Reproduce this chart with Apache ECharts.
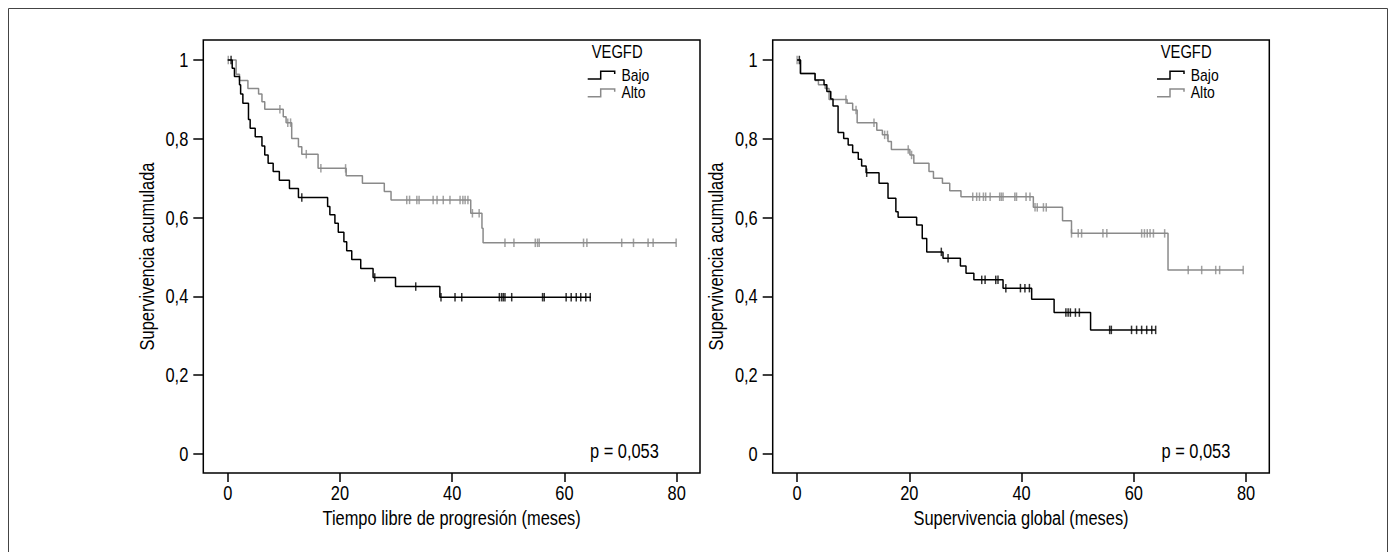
<!DOCTYPE html>
<html>
<head>
<meta charset="utf-8">
<script src="https://cdn.jsdelivr.net/npm/echarts@6/dist/echarts.min.js"></script>
<style>
html,body{margin:0;padding:0;background:#fff;}
#chart{width:1396px;height:552px;}
</style>
</head>
<body>
<div id="chart"></div>
<script>
// ---------------- DATA ----------------
const xTicks = [0, 20, 40, 60, 80];
const yTicks = [0, 0.2, 0.4, 0.6, 0.8, 1];
const groupNames = ['Bajo', 'Alto'];
const legendTitle = 'VEGFD';
const pValueText = 'p = 0,053';
const yTitle = 'Supervivencia acumulada';
const xTitleLeft = 'Tiempo libre de progresión (meses)';
const xTitleRight = 'Supervivencia global (meses)';

// Left panel: progression-free time. Events: [time, survival after drop]
const pfsBajoEvents = [[0.8,0.979],[1.2,0.958],[2.1,0.937],[2.3,0.914],[2.7,0.890],[3.7,0.849],[4.0,0.827],[4.9,0.805],[6.1,0.782],[6.6,0.759],[7.2,0.738],[8.1,0.717],[9.2,0.695],[11.0,0.674],[12.6,0.651],[17.8,0.628],[18.2,0.607],[19.1,0.586],[19.7,0.563],[20.7,0.539],[21.2,0.516],[22.1,0.494],[23.7,0.471],[25.9,0.448],[29.9,0.425],[37.8,0.398]];
const pfsBajoEnd = 64.7;
const pfsBajoCensored = [0.6, 13.2, 26.2, 33.5, 38.0, 40.5, 41.7, 48.4, 48.8, 49.1, 49.4, 50.6, 56.1, 56.4, 60.3, 61.2, 62.1, 62.9, 63.8, 64.6];

const pfsAltoEvents = [[1.5,0.964],[2.1,0.948],[3.6,0.928],[5.5,0.914],[6.1,0.894],[6.6,0.875],[9.9,0.856],[10.4,0.841],[11.4,0.801],[12.6,0.780],[13.2,0.761],[16.1,0.725],[21.1,0.706],[24.0,0.687],[27.9,0.666],[29.1,0.645],[43.3,0.611],[45.3,0.573],[45.5,0.536]];
const pfsAltoEnd = 79.9;
const pfsAltoCensored = [0.1, 9.3, 10.7, 11.2, 14.0, 16.6, 21.0, 31.9, 32.4, 33.7, 34.1, 36.6, 37.3, 38.4, 39.6, 41.4, 41.9, 42.3, 42.8, 43.6, 44.8, 49.4, 51.0, 54.8, 55.2, 55.5, 63.4, 64.0, 70.2, 72.3, 74.9, 75.8, 79.9];

// Right panel: overall survival
const osBajoEvents = [[0.6,0.966],[3.2,0.949],[4.8,0.937],[5.3,0.920],[6.0,0.901],[6.4,0.883],[7.3,0.816],[8.3,0.801],[9.1,0.784],[9.9,0.765],[10.9,0.748],[11.5,0.731],[12.3,0.714],[14.6,0.687],[16.2,0.649],[17.6,0.615],[18.0,0.601],[21.3,0.581],[22.3,0.547],[23.1,0.513],[26.0,0.497],[29.1,0.477],[30.1,0.459],[31.5,0.442],[36.7,0.421],[41.8,0.393],[45.8,0.359],[52.3,0.315]];
const osBajoEnd = 63.9;
const osBajoCensored = [0.4, 12.4, 25.7, 26.9, 32.9, 33.5, 35.4, 35.8, 37.2, 39.8, 40.6, 41.4, 47.9, 48.3, 48.7, 49.6, 50.3, 55.7, 56.0, 59.6, 60.5, 61.4, 62.3, 63.2, 63.9];

const osAltoEvents = [[0.6,0.966],[3.2,0.948],[3.8,0.937],[5.0,0.928],[5.7,0.900],[8.9,0.890],[9.9,0.873],[10.7,0.841],[14.2,0.822],[15.2,0.810],[16.2,0.793],[16.8,0.773],[20.1,0.759],[20.8,0.738],[23.5,0.717],[24.3,0.700],[25.9,0.687],[27.2,0.668],[29.2,0.653],[42.1,0.626],[47.3,0.592],[48.9,0.560],[66.1,0.467]];
const osAltoEnd = 79.5;
const osAltoCensored = [0.0, 8.7, 10.5, 13.7, 15.6, 16.1, 19.8, 20.4, 31.3, 32.0, 32.5, 33.2, 33.6, 34.4, 36.1, 36.4, 36.7, 38.8, 39.1, 40.8, 41.5, 42.4, 42.8, 43.9, 44.4, 48.9, 50.1, 50.7, 54.5, 55.2, 61.4, 61.9, 62.4, 62.9, 63.5, 65.5, 69.7, 72.1, 74.6, 75.3, 79.5];

// ---------------- BUILD ----------------
const FONT = "'Liberation Sans Narrow', 'Arial Narrow', 'Liberation Sans', Arial, sans-serif";
const NARROW = 0.82; // horizontal condensation of text glyphs (narrow face look)
const BLACK = '#000000';
const GRAY = '#8a8a8a';

function kmLine(events, endT) {
  const pts = [[0, 1]].concat(events.map(e => [e[0], e[1]]));
  pts.push([endT, events[events.length - 1][1]]);
  return pts;
}
function survivalAt(events, t) {
  let s = 1;
  for (const e of events) { if (e[0] <= t) s = e[1]; }
  return s;
}
function censorPts(events, times) {
  return times.map(t => [t, survivalAt(events, t)]);
}

const grids = [
  {left: 203.3, top: 40, width: 496.7, height: 433},
  {left: 772.7, top: 40, width: 496.6, height: 433}
];

function xAxisFor(i, name) {
  return {
    type: 'value', gridIndex: i, min: -4.35, max: 84.15,
    name: name, nameLocation: 'middle', nameGap: 33,
    nameTextStyle: {fontSize: 20, color: '#000', fontFamily: FONT},
    axisLine: {show: false, onZero: false},
    axisTick: {show: true, length: 9, customValues: xTicks, lineStyle: {color: '#000', width: 1.5}},
    axisLabel: {show: true, margin: 10, fontSize: 20, color: '#000', fontFamily: FONT, customValues: xTicks},
    splitLine: {show: false}
  };
}
function yAxisFor(i) {
  return {
    type: 'value', gridIndex: i, min: -0.0482, max: 1.0508,
    name: yTitle, nameLocation: 'middle', nameGap: 37,
    nameTextStyle: {fontSize: 20, color: '#000', fontFamily: FONT},
    axisLine: {show: false, onZero: false},
    axisTick: {show: true, length: 10, customValues: yTicks, lineStyle: {color: '#000', width: 1.5}},
    axisLabel: {show: true, margin: 15, fontSize: 20, color: '#000', fontFamily: FONT, customValues: yTicks,
      formatter: v => (Math.abs(v) < 1e-9 ? '0' : Math.abs(v - 1) < 1e-9 ? '1' : (+v).toFixed(1).replace('.', ','))},
    splitLine: {show: false}
  };
}

function panelSeries(i, bajoEv, bajoEnd, bajoCen, altoEv, altoEnd, altoCen) {
  return [
    {name: 'Alto', type: 'line', step: 'end', xAxisIndex: i, yAxisIndex: i, data: kmLine(altoEv, altoEnd),
      showSymbol: false, symbol: 'none', lineStyle: {color: GRAY, width: 1.5}, itemStyle: {color: GRAY}, z: 2, silent: true, animation: false},
    {name: 'Alto censurado', type: 'scatter', xAxisIndex: i, yAxisIndex: i, data: censorPts(altoEv, altoCen),
      symbol: 'rect', symbolSize: [1.5, 8.5], itemStyle: {color: GRAY}, z: 3, silent: true, animation: false},
    {name: 'Bajo', type: 'line', step: 'end', xAxisIndex: i, yAxisIndex: i, data: kmLine(bajoEv, bajoEnd),
      showSymbol: false, symbol: 'none', lineStyle: {color: BLACK, width: 1.5}, itemStyle: {color: BLACK}, z: 4, silent: true, animation: false},
    {name: 'Bajo censurado', type: 'scatter', xAxisIndex: i, yAxisIndex: i, data: censorPts(bajoEv, bajoCen),
      symbol: 'rect', symbolSize: [1.5, 8.5], itemStyle: {color: BLACK}, z: 5, silent: true, animation: false}
  ];
}

const stepIcon = 'path://M0,7.75 L12.25,7.75 L12.25,0 L27.75,0 L27.75,3.5 L26.25,3.5 L26.25,1.5 L13.75,1.5 L13.75,9.25 L0,9.25 Z';
function legendFor(left) {
  return {
    data: groupNames, orient: 'vertical', left: left, top: 66.5, padding: 0,
    itemWidth: 27.75, itemHeight: 9.25, itemGap: 0.8, icon: stepIcon, selectedMode: false,
    textStyle: {fontSize: 17, color: '#000', fontFamily: FONT, padding: [0, 0, 0, 1]}
  };
}

function txt(x, y, text, size) {
  return {type: 'text', x: x, y: y, silent: true,
    style: {text: text, fill: '#000', font: size + 'px ' + FONT, textAlign: 'left', textVerticalAlign: 'middle'}};
}

const option = {
  animation: false,
  textStyle: {fontFamily: FONT},
  grid: grids.map(g => Object.assign({show: true, borderColor: '#000', borderWidth: 1.5, backgroundColor: 'transparent'}, g)),
  xAxis: [xAxisFor(0, xTitleLeft), xAxisFor(1, xTitleRight)],
  yAxis: [yAxisFor(0), yAxisFor(1)],
  legend: [legendFor(587.7), legendFor(1157)],
  series: [].concat(
    panelSeries(0, pfsBajoEvents, pfsBajoEnd, pfsBajoCensored, pfsAltoEvents, pfsAltoEnd, pfsAltoCensored),
    panelSeries(1, osBajoEvents, osBajoEnd, osBajoCensored, osAltoEvents, osAltoEnd, osAltoCensored)
  ),
  graphic: [
    {type: 'rect', silent: true, shape: {x: 8.5, y: 8.5, width: 1379, height: 600}, style: {fill: 'none', stroke: '#444', lineWidth: 1}},
    txt(591.7, 52, legendTitle, 18),
    txt(1160.7, 52, legendTitle, 18),
    txt(590, 451, pValueText, 20),
    txt(1161.5, 451, pValueText, 20)
  ]
};

const chart = echarts.init(document.getElementById('chart'), null, {renderer: 'svg'});
chart.setOption(option);

// Give the SVG text a narrow (condensed) look, like the original typeface.
function condense() {
  document.querySelectorAll('#chart svg text').forEach(t => {
    if (t.getAttribute('lengthAdjust')) return;
    const L = t.getComputedTextLength();
    if (L > 0) {
      t.setAttribute('textLength', (L * NARROW).toFixed(2));
      t.setAttribute('lengthAdjust', 'spacingAndGlyphs');
    }
  });
}
condense();
chart.on('finished', condense);
setTimeout(condense, 30);
setTimeout(condense, 200);
</script>
</body>
</html>
